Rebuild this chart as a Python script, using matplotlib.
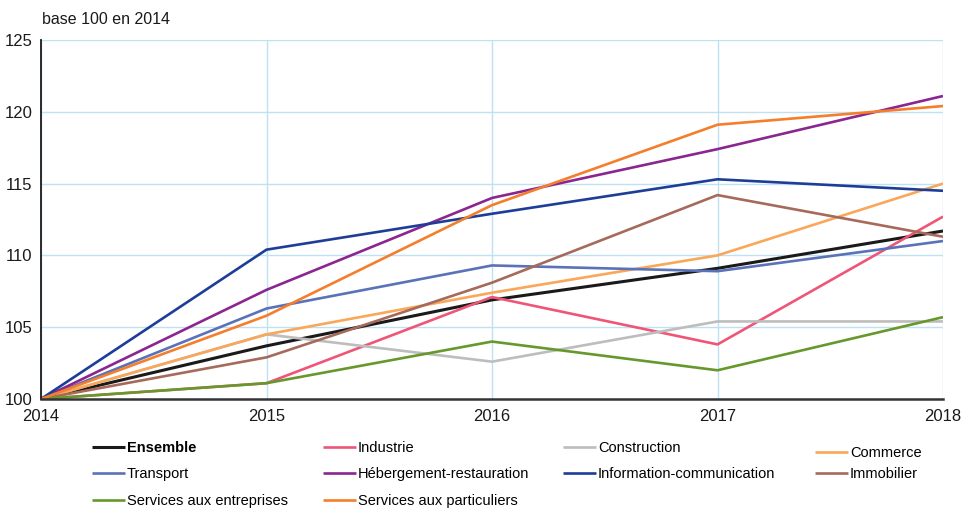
import matplotlib
matplotlib.use("Agg")
import matplotlib.pyplot as plt

plt.rcParams['font.family'] = ['Liberation Sans', 'DejaVu Sans']

years = [2014, 2015, 2016, 2017, 2018]

ensemble = [100, 103.7, 106.9, 109.1, 111.7]
industrie = [100, 101.1, 107.1, 103.8, 112.7]
construction = [100, 104.5, 102.6, 105.4, 105.4]
commerce = [100, 104.5, 107.4, 110.0, 115.0]
transport = [100, 106.3, 109.3, 108.9, 111.0]
hebergement = [100, 107.6, 114.0, 117.4, 121.1]
info_com = [100, 110.4, 112.9, 115.3, 114.5]
immobilier = [100, 102.9, 108.1, 114.2, 111.3]
serv_entreprises = [100, 101.1, 104.0, 102.0, 105.7]
serv_particuliers = [100, 105.8, 113.5, 119.1, 120.4]

series = [
    ("Ensemble", ensemble, "#1a1a1a"),
    ("Industrie", industrie, "#ef5577"),
    ("Construction", construction, "#bdbdbd"),
    ("Commerce", commerce, "#f9a759"),
    ("Transport", transport, "#5a72b8"),
    ("Hébergement-restauration", hebergement, "#8b2690"),
    ("Information-communication", info_com, "#1d3e98"),
    ("Immobilier", immobilier, "#a66a5b"),
    ("Services aux entreprises", serv_entreprises, "#67982b"),
    ("Services aux particuliers", serv_particuliers, "#f47e2b"),
]

W, H = 964, 509
fig = plt.figure(figsize=(W / 100, H / 100), dpi=100)
ax = fig.add_axes([41 / W, 1 - 399 / H, 902 / W, 359 / H])

lines = {}
for name, vals, col in series:
    lw = 2.2 if name == "Ensemble" else 1.9
    ln, = ax.plot(years, vals, color=col, lw=lw, label=name, zorder=3,
                  solid_capstyle='butt')
    lines[name] = ln

ax.set_xlim(2014, 2018)
ax.set_ylim(100, 125)
ax.set_xticks(years)
ax.set_yticks(range(100, 126, 5))
ax.grid(True, color="#bfe1f4", lw=1.0, zorder=0)
ax.tick_params(length=0, labelsize=12, colors="#1a1a1a")
ax.tick_params(axis='y', pad=6)
ax.tick_params(axis='x', pad=7)
for s in ['top', 'right']:
    ax.spines[s].set_visible(False)
ax.spines['left'].set_color("#1a1a1a")
ax.spines['left'].set_linewidth(1.3)
ax.spines['bottom'].set_color("#333333")
ax.spines['bottom'].set_linewidth(1.8)
ax.spines['left'].set_zorder(4)
ax.spines['bottom'].set_zorder(4)

fig.text(42 / W, 1 - 20 / H, "base 100 en 2014", fontsize=11.5,
         va='center', ha='left', color="#1a1a1a")

# legend grid: one small legend per entry, placed by column and row (pixels)
col_x = [92, 323, 563, 815]
row_y = [448, 474, 501]
legend_pos = {
    "Ensemble": (0, 0), "Industrie": (1, 0), "Construction": (2, 0),
    "Commerce": (3, 0), "Transport": (0, 1),
    "Hébergement-restauration": (1, 1), "Information-communication": (2, 1),
    "Immobilier": (3, 1), "Services aux entreprises": (0, 2),
    "Services aux particuliers": (1, 2),
}
for name, (c, r) in legend_pos.items():
    y = row_y[r] + (5 if name == "Commerce" else 0)
    leg = fig.legend([lines[name]], [name], loc='center left',
                     bbox_to_anchor=(col_x[c] / W, 1 - y / H),
                     frameon=False, fontsize=10.5, handlelength=2.25,
                     handletextpad=0.15, borderpad=0, borderaxespad=0)
    if name == "Ensemble":
        leg.get_texts()[0].set_fontweight('bold')

fig.savefig("out.png", dpi=100)
